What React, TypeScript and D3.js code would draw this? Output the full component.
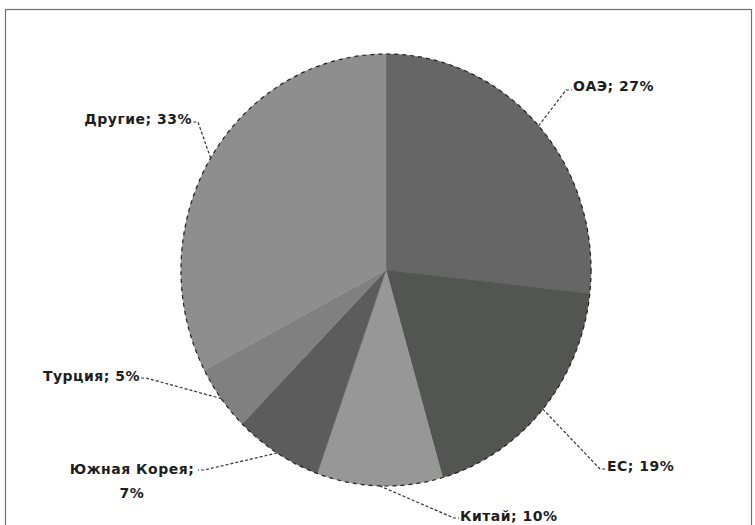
import React from "react";
import * as d3 from "d3";

const categories = ["ОАЭ", "ЕС", "Китай", "Южная Корея", "Турция", "Другие"];
const values = [27, 19, 10, 7, 5, 33];
const percentLabels = ["27%", "19%", "10%", "7%", "5%", "33%"];
const colors = ["#666666", "#535553", "#979797", "#5c5c5c", "#808080", "#8e8e8e"];

// label layout: leader elbow/end points, text anchor and position
const labelLayout = [
  { elbow: [566, 90], end: [572, 90], anchor: "start", tx: 573, ty: 91, lines: ["ОАЭ; 27%"] },
  { elbow: [600, 469], end: [606, 469], anchor: "start", tx: 607, ty: 471, lines: ["ЕС; 19%"] },
  { elbow: [454, 518], end: [459, 518], anchor: "start", tx: 460, ty: 521, lines: ["Китай; 10%"] },
  { elbow: [204, 470], end: [198, 470], anchor: "middle", tx: 132, ty: 474, lines: ["Южная Корея;", "7%"] },
  { elbow: [146, 378], end: [141, 378], anchor: "end", tx: 140, ty: 381, lines: ["Турция; 5%"] },
  { elbow: [198, 122], end: [193, 122], anchor: "end", tx: 192, ty: 124, lines: ["Другие; 33%"] },
];

export default function App() {
  const W = 755, H = 525;
  const cx = 386, cy = 270, rx = 205, ry = 216;
  const pie = d3.pie<number>().sort(null).value((d) => d);
  const arcs = pie(values);
  const arc = d3.arc<d3.PieArcDatum<number>>().innerRadius(0).outerRadius(rx);
  const sy = ry / rx;

  return (
    <svg width={W} height={H} style={{ position: "absolute", left: 0, top: 0 }}>
      <rect x={0} y={0} width={W} height={H} fill="#ffffff" />
      <rect x={5.5} y={9.5} width={746} height={530} fill="none" stroke="#6e6e6e" strokeWidth={1.2} />
      <g transform={`translate(${cx},${cy}) scale(1,${sy})`}>
        {arcs.map((a, i) => (
          <path key={categories[i]} d={arc(a) || ""} fill={colors[i]} stroke={colors[i]} strokeWidth={0.5} />
        ))}
        <ellipse cx={0} cy={0} rx={rx} ry={rx} fill="none" stroke="#222" strokeWidth={1.2}
          strokeDasharray="4,4" vectorEffect="non-scaling-stroke" />
      </g>
      {arcs.map((a, i) => {
        const mid = (a.startAngle + a.endAngle) / 2;
        const x0 = cx + rx * Math.sin(mid);
        const y0 = cy - ry * Math.cos(mid);
        const L = labelLayout[i];
        return (
          <g key={"l" + i}>
            <polyline
              points={`${x0},${y0} ${L.elbow[0]},${L.elbow[1]} ${L.end[0]},${L.end[1]}`}
              fill="none" stroke="#333" strokeWidth={1.2} strokeDasharray="3,2" />
            <text x={L.tx} y={L.ty} textAnchor={L.anchor as any}
              fontFamily="'DejaVu Sans', sans-serif" fontSize={14} fontWeight="bold" fill="#1e1e1e"
              letterSpacing={0.5}>
              {L.lines.map((ln, k) => (
                <tspan key={k} x={L.tx} dy={k === 0 ? 0 : 24}>{ln}</tspan>
              ))}
            </text>
          </g>
        );
      })}
    </svg>
  );
}
